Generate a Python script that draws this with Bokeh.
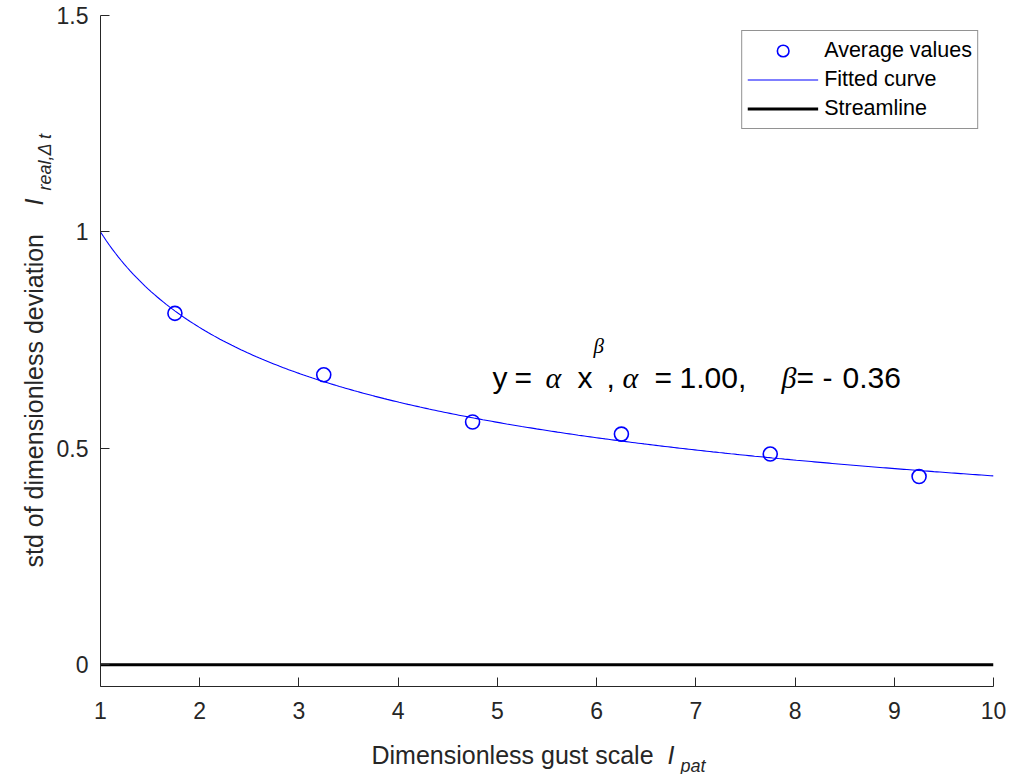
import numpy as np
from bokeh.plotting import figure
from bokeh.models import (Label, Legend, LegendItem, Range1d, FixedTicker,
                          NumeralTickFormatter)
from bokeh.embed import file_html
from bokeh.resources import INLINE

# --- data -------------------------------------------------------------
gust_scale = [1.75, 3.25, 4.75, 6.25, 7.75, 9.25]
avg_std = [0.812, 0.670, 0.561, 0.533, 0.487, 0.435]

alpha = 1.00
beta = -0.36

stream_x = [1, 10]
stream_y = [0, 0]

x_ticks = [1, 2, 3, 4, 5, 6, 7, 8, 9, 10]
y_ticks = [0, 0.5, 1, 1.5]

# --- geometry ------------------------------------------------------------
X_LO, X_HI = 1, 10
Y_LO, Y_HI = -0.05, 1.5
LEFT, TOP, FW, FH = 100, 15, 893, 671
W, H = 1011, 774

SANS = "Liberation Sans"
SERIF = "Liberation Serif"
AX = "#262626"

p = figure(width=W, height=H, frame_width=FW, frame_height=FH,
           x_range=Range1d(X_LO, X_HI), y_range=Range1d(Y_LO, Y_HI),
           output_backend="svg", toolbar_location=None,
           min_border_left=LEFT, min_border_top=TOP,
           min_border_right=W - LEFT - FW, min_border_bottom=H - TOP - FH)
p.outline_line_color = None
p.background_fill_color = "white"
p.border_fill_color = "white"
p.xgrid.grid_line_color = None
p.ygrid.grid_line_color = None

p.axis.axis_line_color = AX
p.axis.axis_line_width = 1
p.axis.major_tick_line_color = AX
p.axis.major_tick_in = 9
p.axis.major_tick_out = 0
p.axis.minor_tick_line_color = None
p.axis.major_label_text_font = SANS
p.axis.major_label_text_font_size = "23px"
p.axis.major_label_text_color = AX

p.xaxis.ticker = FixedTicker(ticks=x_ticks)
p.yaxis.ticker = FixedTicker(ticks=y_ticks)
p.yaxis.formatter = NumeralTickFormatter(format="0.[0]")
p.xaxis.major_label_standoff = 15
p.yaxis.major_label_standoff = 12

# --- marks -------------------------------------------------------------
xs = np.linspace(X_LO, X_HI, 300)
fit = alpha * xs ** beta

r_stream = p.line(stream_x, stream_y, line_color="black", line_width=3)
r_fit = p.line(xs, fit, line_color="#0000ff", line_width=1.1)
r_pts = p.scatter(gust_scale, avg_std, marker="circle", size=14,
                  fill_color=None, line_color="#0000ff", line_width=1.6)

legend = Legend(items=[
    LegendItem(label="Average values", renderers=[r_pts]),
    LegendItem(label="Fitted curve", renderers=[r_fit]),
    LegendItem(label="Streamline", renderers=[r_stream]),
], location="top_right")
legend.label_text_font = SANS
legend.label_text_font_size = "21.5px"
legend.label_text_color = "black"
legend.glyph_width = 71
legend.glyph_height = 29
legend.label_height = 29
legend.label_standoff = 6
legend.spacing = 0
legend.padding = 5
legend.margin = 15
legend.border_line_color = AX
legend.border_line_width = 1
legend.background_fill_color = "white"
legend.background_fill_alpha = 1
p.add_layout(legend)


def lab(text, px, py, size, font=SANS, style="normal", color="black",
        angle=0.0, side=None):
    """Text placed in canvas pixels (origin at the top-left corner)."""
    label = Label(x=px, y=py, x_units="canvas", y_units="canvas",
                  text=text, text_font=font,
                  text_font_size=f"{size}px", text_font_style=style,
                  text_color=color, text_align="left",
                  text_baseline="alphabetic", angle=angle)
    if side is None:
        p.add_layout(label)
    else:
        p.add_layout(label, side)


# fitted-curve equation
EQ_BASE = 377
EQ_SIZE = 30
lab("y", 492, EQ_BASE, EQ_SIZE)
lab("=", 514, EQ_BASE, EQ_SIZE)
lab("α", 545, EQ_BASE, EQ_SIZE, font=SERIF, style="italic")
lab("x", 577, EQ_BASE, EQ_SIZE)
lab("β", 593, 345, 21, font=SERIF, style="italic")
lab(",", 606, EQ_BASE, EQ_SIZE)
lab("α", 622, EQ_BASE, EQ_SIZE, font=SERIF, style="italic")
lab("=", 654, EQ_BASE, EQ_SIZE)
lab(f"{alpha:.2f},", 679, EQ_BASE, EQ_SIZE)
lab("β", 781, EQ_BASE, EQ_SIZE, font=SERIF, style="italic")
lab("=", 796, EQ_BASE, EQ_SIZE)
lab("-", 822, EQ_BASE, EQ_SIZE)
lab(f"{abs(beta):.2f}", 842, EQ_BASE, EQ_SIZE)

# x-axis title (drawn from the margins so it is not clipped to the frame)
lab("Dimensionless gust scale", 371, 754, 25, color=AX, side="below")
lab("I", 667, 754, 25, style="italic", color=AX, side="right")
lab("pat", 680, 765, 18, style="italic", color=AX, side="below")

# y-axis title (rotated)
UP = np.pi / 2
lab("std of dimensionless deviation", 33, 567, 25, color=AX, angle=UP,
    side="left")
lab("I", 33, 205, 25, style="italic", color=AX, angle=UP, side="above")
lab("real,Δ t", 44, 190, 18, style="italic", color=AX, angle=UP,
    side="left")

open("out.html", "w").write(file_html(p, INLINE))
